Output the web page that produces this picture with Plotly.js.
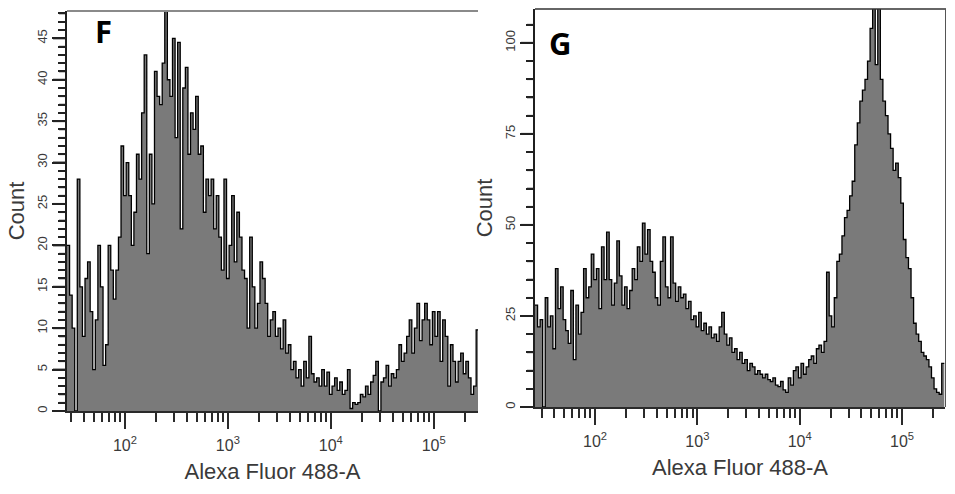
<!DOCTYPE html>
<html>
<head>
<meta charset="utf-8">
<script src="https://cdn.plot.ly/plotly-3.0.1.min.js"></script>
<style>
  html, body { margin: 0; padding: 0; background: #fff; }
  #chart { width: 955px; height: 494px; }
</style>
</head>
<body>
<div id="chart"></div>
<script>
// ---- Data (counts per channel) ----
const BIN_WIDTH_LOG = 0.025;          // width of one histogram channel in decades
const F_START_LOG = 1.437;            // left edge of first channel, panel F
const G_START_LOG = 1.413;            // left edge of first channel, panel G

const F_COUNTS = [
  20, 14, 10, 0,    28, 15, 9, 16,    18, 12, 5, 11,    20, 15, 5.5, 8,
  20, 17, 13.5, 17, 21, 32, 26, 30,   26, 20, 24, 31,   28, 36, 43, 19,
  31, 25, 41, 38,   37, 42, 48.5, 40, 38, 45, 33, 44.5, 22, 39, 41.5, 31,
  36, 34, 38, 31,   32, 24, 28, 26,   28, 22, 26, 21,   17, 28, 16, 20,
  26, 18, 24, 21,   17, 16, 10, 21,   15, 10, 13, 18,   16, 13, 9, 11,
  12, 9, 10, 7.5,   11, 7, 8, 5,      6, 4, 5, 3,       6, 4, 9, 4.5,
  3.5, 4, 3, 5,     3, 4.7, 2, 3,     4, 2.5, 3.5, 2,   2.5, 5, 0.3, 1,
  0.8, 1, 2, 1.7,   3, 2, 3.5, 4.3,   6, 0, 3.5, 4,     5.5, 3, 4.5, 4,
  5, 8, 6, 7,       9, 11, 7, 10,     13, 8.5, 11, 13,  11, 8, 12, 9,
  12, 6, 11, 9,     3, 8, 6, 3.5,     6, 7, 4.5, 6,     4, 2, 3, 9.8
];

const G_COUNTS = [
  28, 22, 24, 0,    30, 22, 25, 16,   38, 27, 33, 24,   21, 17.5, 32, 13,
  28, 20, 26, 38,   30, 33, 42, 35,   38, 27, 44, 35,   48, 35, 28, 34,
  45.6, 36, 28, 33, 27, 32, 38, 35,   44, 40, 50.5, 42, 48.7, 40, 37, 30,
  28, 40, 46.7, 33, 30, 46.7, 34, 29, 33, 30, 31, 27,   29, 24, 25, 22,
  26, 21, 23, 20,   22, 19, 20, 18,   22, 26, 20, 17,   19, 15, 16, 13,
  15, 12, 13, 10,   12, 11, 9, 10,    9, 8, 9, 7.5,     7, 8, 6, 5.6,
  7, 4.7, 4, 8,     6, 10, 11, 8,     12, 9, 11, 13,    14, 12, 16, 17,
  15, 18, 37, 25,   22, 30, 40, 42,   47, 52, 54, 58,   62, 72, 78, 84,
  87, 90, 95, 104,  111, 94, 110, 90, 84, 80, 75, 71,   65, 67, 63, 56,
  46, 41, 38, 30,   23, 20, 18, 15,   14, 13, 11, 8,    5, 4, 3.5, 12
];

const X_TICK_VALS = [100, 1000, 10000, 100000];
const X_TICK_TEXT = ['10<sup>2</sup>', '10<sup>3</sup>', '10<sup>4</sup>', '10<sup>5</sup>'];
const X_MINOR_VALS = [30,40,50,60,70,80,90, 200,300,400,500,600,700,800,900,
  2000,3000,4000,5000,6000,7000,8000,9000, 20000,30000,40000,50000,60000,70000,80000,90000, 200000];
const F_Y_MAX_TICK = 48, F_Y_STEP = 5, F_Y_MINOR = 1;
const G_Y_MAX_TICK = 105, G_Y_STEP = 25, G_Y_MINOR = 5;

const X_TITLE = 'Alexa Fluor 488-A';
const Y_TITLE = 'Count';

// ---- Build step histograms ----
function stepTrace(startLog, counts, xa, ya) {
  const xs = [], ys = [];
  for (let i = 0; i < counts.length; i++) {
    xs.push(Math.pow(10, startLog + i * BIN_WIDTH_LOG));
    ys.push(counts[i]);
  }
  xs.push(Math.pow(10, startLog + counts.length * BIN_WIDTH_LOG));
  ys.push(counts[counts.length - 1]);
  return {
    type: 'scatter', mode: 'lines', x: xs, y: ys, xaxis: xa, yaxis: ya,
    line: { shape: 'hv', color: '#000', width: 1.3 },
    fill: 'tozeroy', fillcolor: '#7a7a7a', hoverinfo: 'skip', showlegend: false
  };
}

const W = 955, H = 494;
const px = v => v / W;
const py = v => (H - v) / H;

const fontFam = 'Liberation Sans, Arial, sans-serif';
const textCol = '#3a3a3a';

function xAxis(domain, range, anchor) {
  return {
    type: 'log', domain: domain, range: range, anchor: anchor,
    showgrid: false, zeroline: false,
    showline: true, linecolor: '#2a2a2a', linewidth: 2,
    ticks: 'outside', ticklen: 16, tickwidth: 2, tickcolor: '#2a2a2a',
    tickmode: 'array', tickvals: X_TICK_VALS, ticktext: X_TICK_TEXT,
    ticklabelstandoff: 3,
    tickfont: { family: fontFam, size: 16, color: textCol },
    minor: { tickmode: 'array', tickvals: X_MINOR_VALS, ticks: 'outside', ticklen: 9, tickwidth: 2, tickcolor: '#2a2a2a' },
    title: { text: X_TITLE, font: { family: fontFam, size: 22, color: textCol }, standoff: 10 },
    automargin: false
  };
}
function yAxis(domain, range, step, minorStep, anchor) {
  return {
    domain: domain, range: range, anchor: anchor,
    showgrid: false, zeroline: false,
    showline: true, linecolor: '#1f1f1f', linewidth: 2,
    ticks: 'outside', ticklen: 13, tickwidth: 2, tickcolor: '#222',
    dtick: step, tickangle: -90,
    tickfont: { family: fontFam, size: 13, color: textCol },
    minor: { dtick: minorStep, ticks: 'outside', ticklen: 7, tickwidth: 1.8, tickcolor: '#222' },
    title: { text: Y_TITLE, font: { family: fontFam, size: 22, color: textCol }, standoff: 4 },
    automargin: false
  };
}

// Y tick marks drawn on the axis scale (values in data units, x offset in paper units)
function yTickShapes(yref, axisPx, maxVal, step, minorStep) {
  const out = [];
  for (let v = 0; v <= maxVal; v += minorStep) {
    const major = v % step === 0;
    const len = major ? 13 : 7;
    out.push({ type: 'line', xref: 'paper', yref: yref, x0: px(axisPx - len), x1: px(axisPx), y0: v, y1: v,
      line: { color: '#222', width: major ? 2 : 1.6 } });
  }
  return out;
}

const data = [
  stepTrace(F_START_LOG, F_COUNTS, 'x', 'y'),
  stepTrace(G_START_LOG, G_COUNTS, 'x2', 'y2')
];

const layout = {
  width: W, height: H,
  margin: { l: 0, r: 0, t: 0, b: 0 },
  paper_bgcolor: '#fff', plot_bgcolor: '#fff',
  showlegend: false,
  xaxis: xAxis([px(67), px(478)], [1.437, 5.43], 'y'),
  yaxis: yAxis([py(411), py(11)], [0, 48.3], F_Y_STEP, F_Y_MINOR, 'x'),
  xaxis2: xAxis([px(535), px(945)], [1.413, 5.42], 'y2'),
  yaxis2: yAxis([py(407), py(9)], [0, 109.3], G_Y_STEP, G_Y_MINOR, 'x2'),
  shapes: [
    { type: 'line', xref: 'paper', yref: 'paper', x0: px(67), x1: px(478), y0: py(11), y1: py(11),
      line: { color: '#8a8a8a', width: 2 } },
    { type: 'line', xref: 'paper', yref: 'paper', x0: px(535), x1: px(946), y0: py(9), y1: py(9),
      line: { color: '#333', width: 1.5 } },
    { type: 'line', xref: 'paper', yref: 'paper', x0: px(945.5), x1: px(945.5), y0: py(9), y1: py(407),
      line: { color: '#555', width: 1 } }
  ].concat(
    yTickShapes('y', 66, F_Y_MAX_TICK, F_Y_STEP, F_Y_MINOR),
    yTickShapes('y2', 534, G_Y_MAX_TICK, G_Y_STEP, G_Y_MINOR)
  ),
  annotations: [
    { text: '<b>F</b>', xref: 'paper', yref: 'paper', x: px(103), y: py(31), showarrow: false,
      xanchor: 'center', yanchor: 'middle', font: { family: 'Open Sans, sans-serif', size: 31, color: '#000' } },
    { text: '<b>G</b>', xref: 'paper', yref: 'paper', x: px(560), y: py(43), showarrow: false,
      xanchor: 'center', yanchor: 'middle', font: { family: 'Open Sans, sans-serif', size: 31, color: '#000' } }
  ]
};

Plotly.newPlot('chart', data, layout, { displayModeBar: false });
</script>
</body>
</html>
